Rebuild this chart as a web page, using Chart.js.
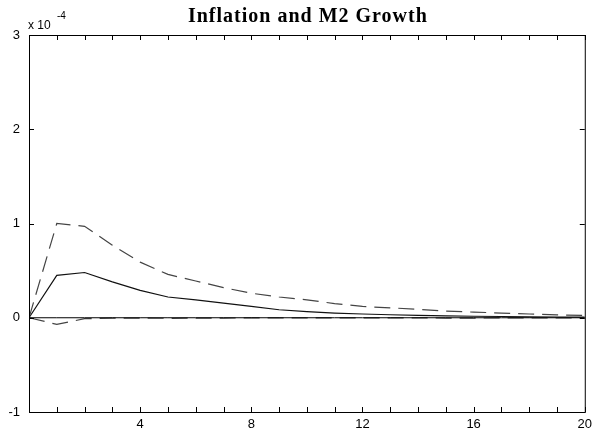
<!DOCTYPE html>
<html>
<head>
<meta charset="utf-8">
<script src="https://cdn.jsdelivr.net/npm/chart.js@4.4.0/dist/chart.umd.min.js"></script>
<style>
  html, body { margin: 0; padding: 0; background: #fff; }
  #wrap { width: 597px; height: 433px; }
</style>
</head>
<body>
<div id="wrap"><canvas id="irf" width="597" height="433"></canvas></div>
<script>
// horizon (quarters) and responses, in units of 1e-4
const horizon = [0, 1, 2, 3, 4, 5, 6, 7, 8, 9, 10, 11, 12, 13, 14, 15, 16, 17, 18, 19, 20];
const response = [0, 0.45, 0.48, 0.38, 0.29, 0.22, 0.19, 0.155, 0.12, 0.085, 0.065, 0.05, 0.04, 0.032, 0.026, 0.02, 0.016, 0.013, 0.01, 0.008, 0.006];
const upperBand = [0, 1.0, 0.97, 0.77, 0.59, 0.46, 0.39, 0.32, 0.26, 0.22, 0.19, 0.15, 0.12, 0.105, 0.09, 0.07, 0.06, 0.05, 0.04, 0.03, 0.025];
const lowerBand = [0, -0.07, -0.01, -0.004, -0.003, -0.006, -0.004, -0.003, -0.002, -0.002, -0.001, -0.001, -0.001, -0.002, -0.002, -0.003, -0.003, -0.002, -0.001, -0.001, 0];
const zeroLine = [0, 0, 0, 0, 0, 0, 0, 0, 0, 0, 0, 0, 0, 0, 0, 0, 0, 0, 0, 0, 0];
const yTicks = [-1, 0, 1, 2, 3];
const xLabels = [4, 8, 12, 16, 20];
const chartTitle = 'Inflation and M2 Growth';

function pts(vals) {
    return horizon.map((h, i) => ({ x: h, y: vals[i] }));
}

// matlab-style box with inward ticks, title and exponent label
const frame = {
    id: 'frame',
    afterDatasetsDraw(chart) {
        const { ctx, chartArea: a, scales: { x, y } } = chart;
        ctx.save();
        ctx.strokeStyle = '#000';
        ctx.lineWidth = 1;
        ctx.strokeRect(a.left + 0.5, a.top + 0.5, a.right - a.left, a.bottom - a.top);
        ctx.beginPath();
        x.ticks.forEach(t => {
            const px = Math.round(x.getPixelForValue(t.value)) + 0.5;
            ctx.moveTo(px, a.bottom); ctx.lineTo(px, a.bottom - 5);
            ctx.moveTo(px, a.top); ctx.lineTo(px, a.top + 5);
        });
        yTicks.forEach(v => {
            const py = Math.round(y.getPixelForValue(v)) + 0.5;
            ctx.moveTo(a.left, py); ctx.lineTo(a.left + 5, py);
            ctx.moveTo(a.right, py); ctx.lineTo(a.right - 5, py);
        });
        ctx.stroke();

        ctx.fillStyle = '#000';
        ctx.textAlign = 'center';
        ctx.textBaseline = 'alphabetic';
        ctx.font = 'bold 20px "Liberation Serif"';
        ctx.letterSpacing = '1px';
        ctx.fillText(chartTitle, (a.left + a.right) / 2 + 1, 22);
        ctx.letterSpacing = '0px';

        ctx.textAlign = 'left';
        ctx.font = '12px "Liberation Sans"';
        ctx.fillText('x 10', a.left - 1, 29);
        ctx.font = '10px "Liberation Sans"';
        ctx.fillText('-4', a.left + 28, 19);
        ctx.restore();
    }
};

new Chart(document.getElementById('irf').getContext('2d'), {
    type: 'line',
    data: {
        datasets: [
            { data: pts(zeroLine), borderColor: '#000', borderWidth: 1 },
            { data: pts(upperBand), borderColor: '#444', borderWidth: 1.2, borderDash: [16, 8] },
            { data: pts(lowerBand), borderColor: '#444', borderWidth: 1.2, borderDash: [16, 8] },
            { data: pts(response), borderColor: '#111', borderWidth: 1.2 }
        ]
    },
    options: {
        responsive: false,
        animation: false,
        layout: { padding: { top: 35, right: 10, left: 0, bottom: 0 } },
        elements: { point: { radius: 0 }, line: { tension: 0 } },
        plugins: { legend: { display: false }, tooltip: { enabled: false } },
        scales: {
            x: {
                type: 'linear', min: 0, max: 20,
                grid: { display: false, drawTicks: false },
                border: { display: false },
                afterFit(s) { s.height = 21; },
                ticks: {
                    stepSize: 1, autoSkip: false, maxRotation: 0, padding: 5,
                    color: '#000', font: { family: 'Liberation Sans', size: 13 },
                    callback: v => xLabels.includes(v) ? String(v) : ''
                }
            },
            y: {
                min: -1, max: 3,
                grid: { display: false, drawTicks: false },
                border: { display: false },
                afterFit(s) { s.width = 29; },
                ticks: {
                    stepSize: 1, padding: 9,
                    color: '#000', font: { family: 'Liberation Sans', size: 13 }
                }
            }
        }
    },
    plugins: [frame]
});
</script>
</body>
</html>
